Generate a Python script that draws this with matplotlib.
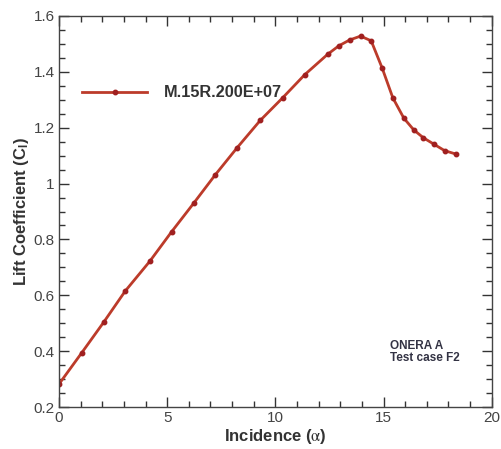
import matplotlib
matplotlib.use("Agg")
import matplotlib.pyplot as plt
from matplotlib.ticker import MultipleLocator

plt.rcParams['font.family'] = ['Liberation Sans', 'DejaVu Sans']
plt.rcParams['mathtext.fontset'] = 'stix'

alpha = [0.0, 1.05, 2.07, 3.06, 4.2, 5.21, 6.22, 7.22, 8.23, 9.3, 10.35, 11.36,
         12.42, 12.93, 13.43, 13.94, 14.43, 14.94, 15.43, 15.94, 16.4, 16.84,
         17.33, 17.82, 18.33]
cl = [0.282, 0.394, 0.504, 0.615, 0.722, 0.828, 0.929, 1.031, 1.128, 1.226, 1.308,
      1.390, 1.463, 1.493, 1.514, 1.528, 1.511, 1.413, 1.307, 1.234, 1.192,
      1.164, 1.141, 1.118, 1.106]
series_name = "M.15R.200E+07"
xticks = [0, 5, 10, 15, 20]
yticks = [0.2, 0.4, 0.6, 0.8, 1.0, 1.2, 1.4, 1.6]
ytick_labels = ["0.2", "0.4", "0.6", "0.8", "1", "1.2", "1.4", "1.6"]

fig = plt.figure(figsize=(5.02, 4.49), dpi=100)
ax = fig.add_axes([0.1175, 0.0935, 0.862, 0.8709])

ax.plot(alpha, cl, color='#bc3b2a', lw=2.0, marker='o', ms=3.2,
        mfc='#a02020', mec='#a02020', label=series_name)

ax.set_xlim(0, 20)
ax.set_ylim(0.2, 1.6)
ax.set_xticks(xticks)
ax.set_yticks(yticks)
ax.set_yticklabels(ytick_labels)
ax.xaxis.set_minor_locator(MultipleLocator(1))
ax.yaxis.set_minor_locator(MultipleLocator(0.05))
ax.tick_params(which='both', direction='in', top=True, right=True,
               labelsize=11, colors='#333333', labelcolor='#444444', width=1)
ax.tick_params(which='major', length=7, pad=3)
ax.tick_params(which='minor', length=4)
for s in ax.spines.values():
    s.set_color('#444444')
    s.set_linewidth(1.0)

ax.set_xlabel(r"Incidence ($\mathrm{\alpha}$)", fontsize=12, fontweight='bold',
              color='#333333', labelpad=1)
ax.set_ylabel(r"Lift Coefficient (C$_\mathregular{l}$)", fontsize=12,
              fontweight='bold', color='#333333', labelpad=2)

leg = ax.legend(loc='upper left', bbox_to_anchor=(0.02, 0.86), frameon=False,
                handlelength=4.0, handletextpad=1.0,
                prop={'weight': 'bold', 'size': 11.7})
for t in leg.get_texts():
    t.set_color('#333333')

ax.text(0.765, 0.14, "ONERA A\nTest case F2", transform=ax.transAxes,
        fontsize=8.5, fontweight='bold', color='#333344', va='center',
        linespacing=1.0)

fig.savefig("out.png", dpi=100)
